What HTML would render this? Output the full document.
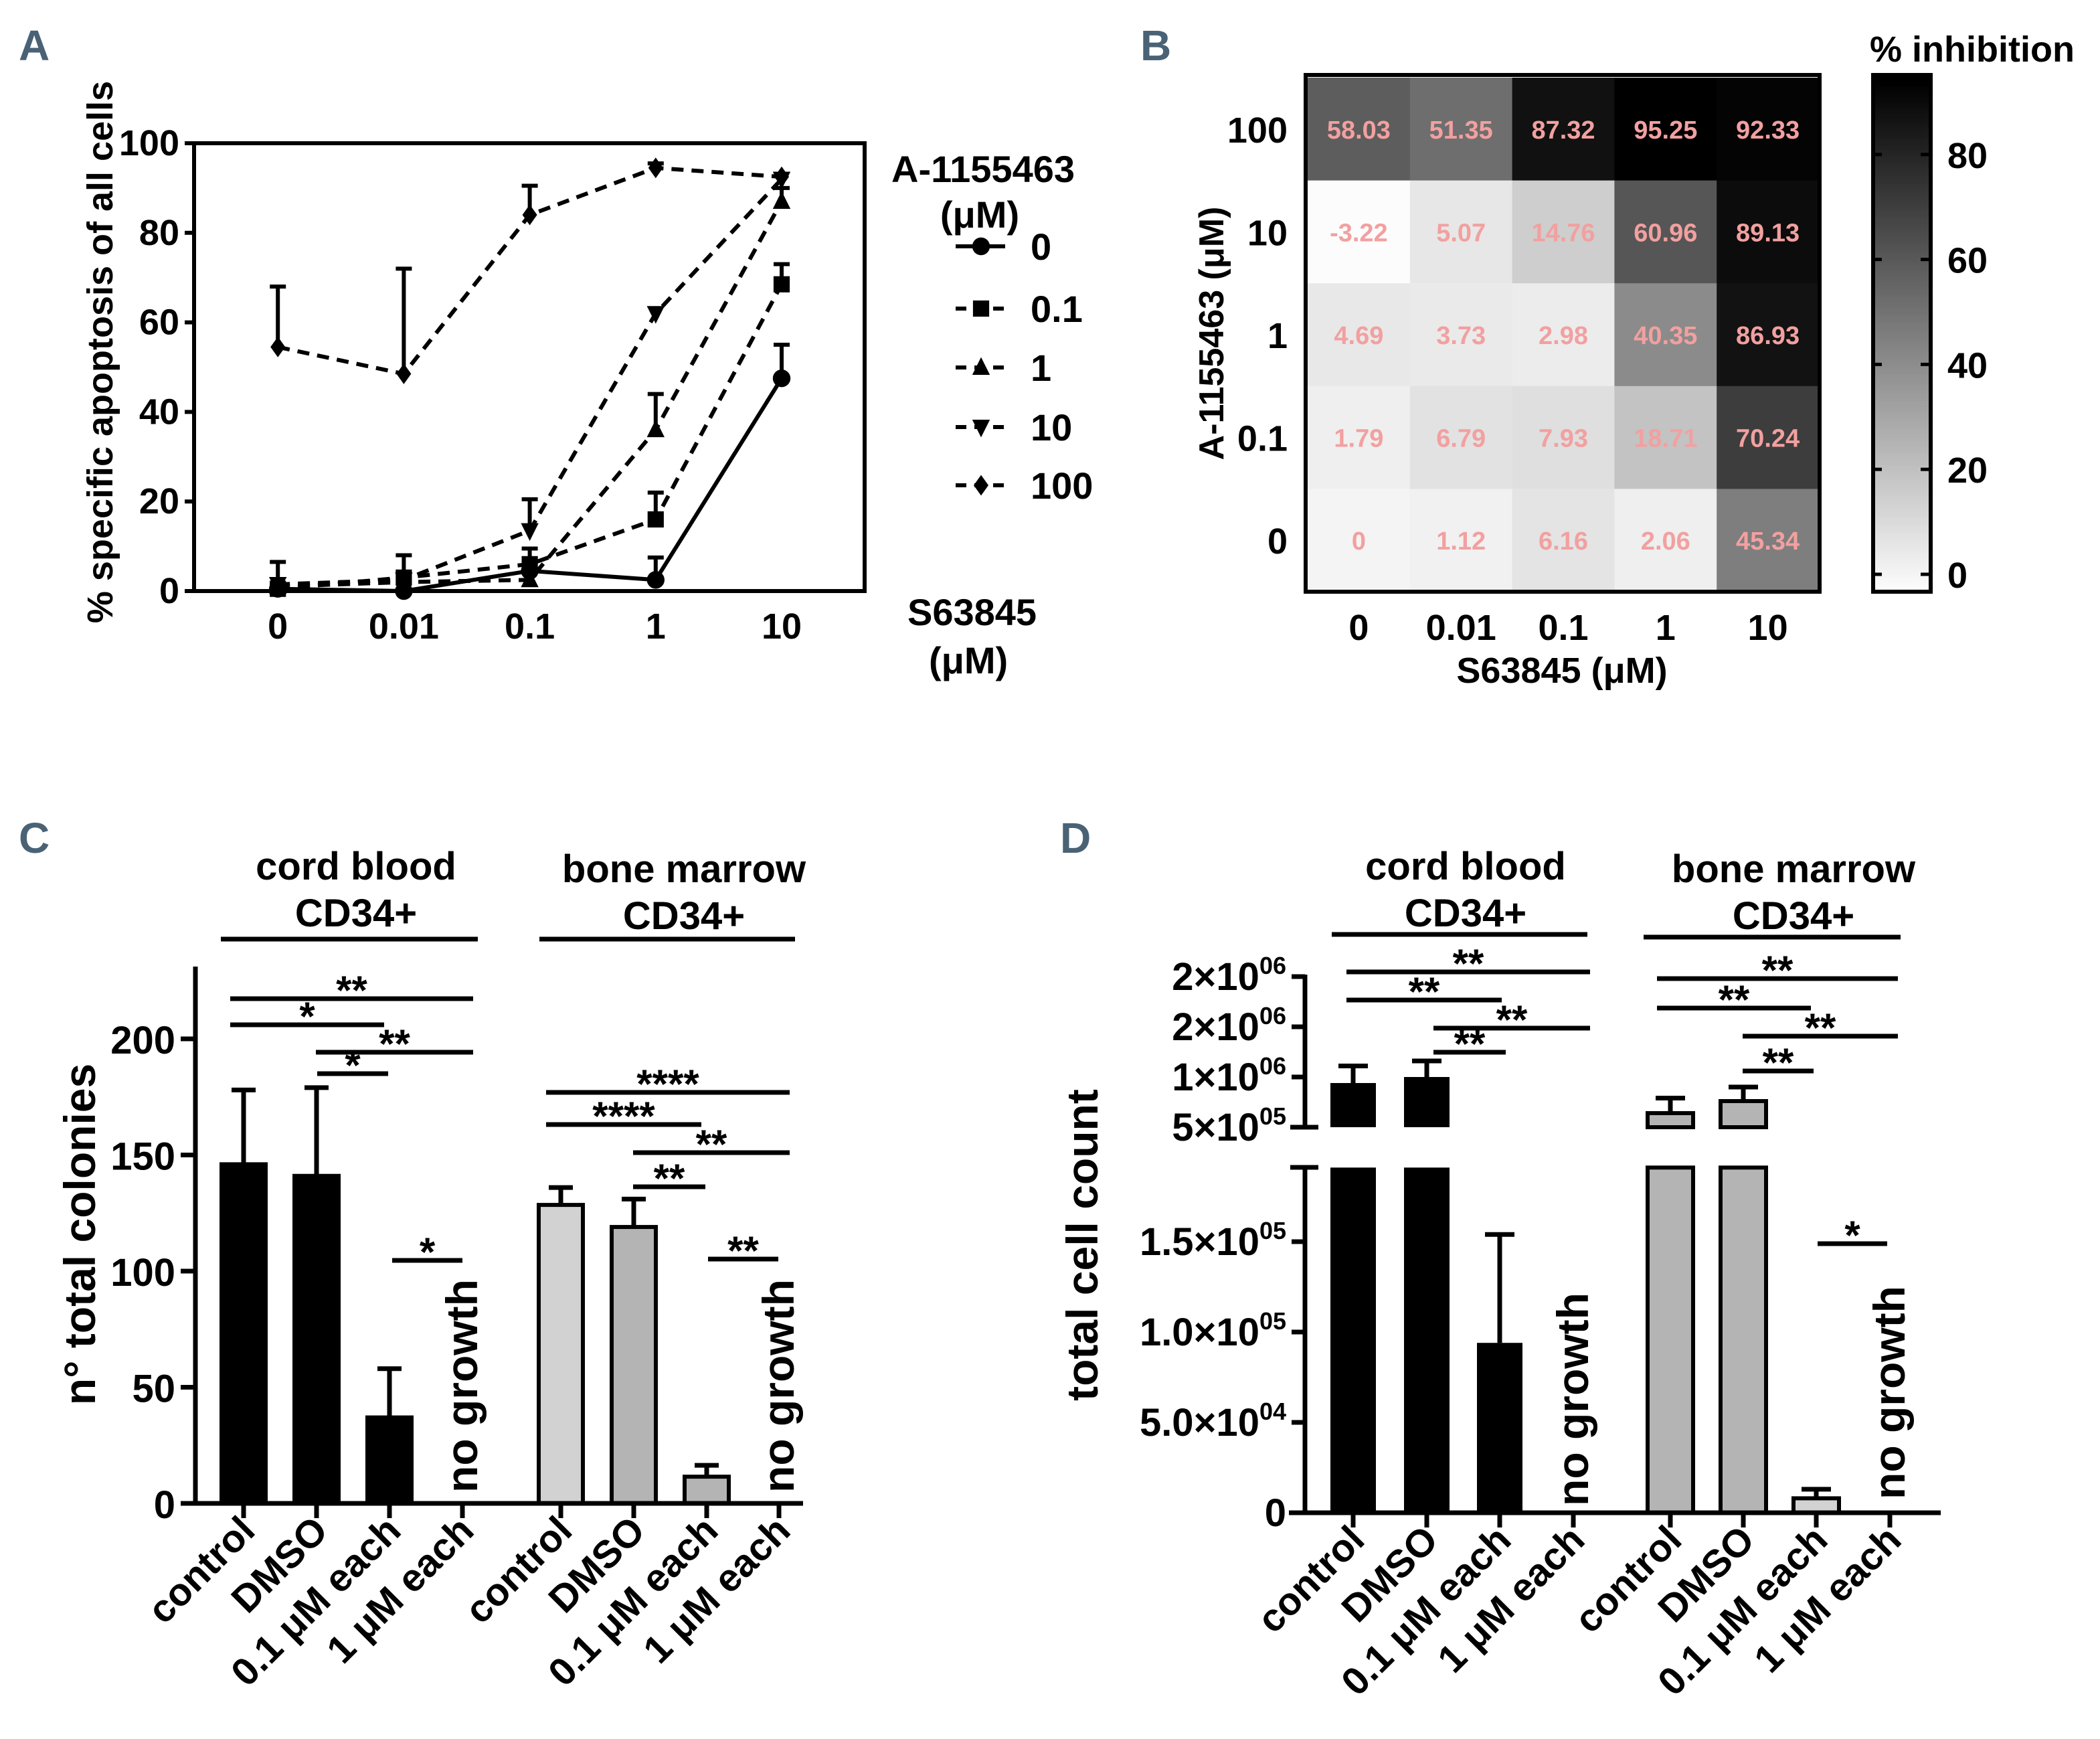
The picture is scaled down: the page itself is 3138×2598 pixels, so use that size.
<!DOCTYPE html>
<html><head><meta charset="utf-8"><style>
html,body{margin:0;padding:0;background:#fff}
svg{display:block}
.n{font-family:"Liberation Sans Narrow","Liberation Sans",sans-serif;font-weight:bold}
.b{font-family:"Liberation Sans",sans-serif;font-weight:bold}
</style></head><body>
<svg id="fig" xmlns="http://www.w3.org/2000/svg" width="3138" height="2598" viewBox="0 0 1569 1299">
<g fill="#4a6275" class="n" font-size="32">
<text x="14" y="45">A</text>
<text x="852" y="45">B</text>
<text x="14" y="637">C</text>
<text x="792" y="637">D</text>
</g>
<g id="A"></g>
<g id="B"></g>
<g id="C"></g>
<g id="D"></g>
</svg>
<script>
// ---------- Panel A data ----------
const aCats = ["0","0.01","0.1","1","10"];
const aSeriesNames = ["0","0.1","1","10","100"];
const aS0 = [0.5,0,4.5,2.5,47.5];
const aS01 = [0.5,3,6,16,68.5];
const aS1 = [1,2,2.5,36,87];
const aS10 = [1.5,2.5,13.5,62,92];
const aS100 = [54.5,48.5,84,94.5,92.5];
const aE0 = [6.5,null,null,7.5,55];
const aE01 = [null,8,9.5,22,73];
const aE1 = [null,null,null,44,90];
const aE10 = [null,null,20.5,null,null];
const aE100 = [68,72,90.5,95.5,null];
const aYTicks = [0,20,40,60,80,100];
// ---------- Panel B data ----------
const bRows = ["100","10","1","0.1","0"];
const bCols = ["0","0.01","0.1","1","10"];
const bR100 = [58.03,51.35,87.32,95.25,92.33];
const bR10 = [-3.22,5.07,14.76,60.96,89.13];
const bR1 = [4.69,3.73,2.98,40.35,86.93];
const bR01 = [1.79,6.79,7.93,18.71,70.24];
const bR0 = [0,1.12,6.16,2.06,45.34];
const bCbTicks = [0,20,40,60,80];
// ---------- Panel C data ----------
const cCats = ["control","DMSO","0.1 μM each","1 μM each"];
const cCord = [146,141,37,0];
const cCordErr = [178,179,58,null];
const cBM = [128.5,119,11.5,0];
const cBMErr = [136,131,16.4,null];
const cYTicks = [0,50,100,150,200];
// ---------- Panel D data ----------
const dCord = [940000,1000000,94000,0];
const dCordErr = [1110000,1160000,154000,null];
const dBM = [640000,760000,8000,0];
const dBMErr = [790000,900000,13000,null];
const dLowTicks = [0,50000,100000,150000];
const dLowLabels = [["0",""],["5.0×10","04"],["1.0×10","05"],["1.5×10","05"]];
const dHighTicks = [500000,1000000,1500000,2000000];
const dHighLabels = [["5×10","05"],["1×10","06"],["2×10","06"],["2×10","06"]];

const NS="http://www.w3.org/2000/svg";
function mk(parent,tag,attrs,text){const e=document.createElementNS(NS,tag);for(const k in attrs)e.setAttribute(k,attrs[k]);if(text!==undefined)e.textContent=text;parent.appendChild(e);return e;}

// ================= Panel A =================
(function(){
const g=document.getElementById('A');
const xA=i=>207.6+i*94.1;
const yA=v=>441.5-v*3.345;
let r=mk(g,'rect',{x:145,y:yA(100),width:501,height:yA(0)-yA(100),fill:'none',stroke:'#000','stroke-width':3});


aYTicks.forEach(v=>{
 let t=mk(g,'line',{x1:138,x2:145,y1:yA(v),y2:yA(v),stroke:'#000','stroke-width':3});
 
 
 let l=mk(g,'text',{x:134,y:yA(v)+9,'text-anchor':'end','font-size':27,class:'n'},String(v));
 
 
});
aCats.forEach((c,i)=>{
 let l=mk(g,'text',{x:xA(i),y:477,'text-anchor':'middle','font-size':27,class:'n'},c);
 
 
});
let yt=mk(g,'text',{transform:'translate(84,263) rotate(-90)','text-anchor':'middle','font-size':27,class:'b'},'% specific apoptosis of all cells');


const series=[aS0,aS01,aS1,aS10,aS100];
const errs=[aE0,aE01,aE1,aE10,aE100];
const shapes=['circle','square','up','down','diamond'];
function marker(p,s,x,y,sz){
 if(s==='circle')return mk(p,'circle',{cx:x,cy:y,r:sz*0.6,fill:'#000'});
 if(s==='square')return mk(p,'rect',{x:x-sz*0.55,y:y-sz*0.55,width:sz*1.1,height:sz*1.1,fill:'#000'});
 if(s==='up')return mk(p,'polygon',{points:`${x},${y-sz*0.7} ${x-sz*0.6},${y+sz*0.5} ${x+sz*0.6},${y+sz*0.5}`,fill:'#000'});
 if(s==='down')return mk(p,'polygon',{points:`${x},${y+sz*0.7} ${x-sz*0.6},${y-sz*0.5} ${x+sz*0.6},${y-sz*0.5}`,fill:'#000'});
 return mk(p,'polygon',{points:`${x},${y-sz*0.7} ${x+sz*0.5},${y} ${x},${y+sz*0.7} ${x-sz*0.5},${y}`,fill:'#000'});
}
series.forEach((s,k)=>{
 const sg=mk(g,'g',{});
 
 
 errs[k].forEach((e,i)=>{ if(e===null)return;
  let eb=mk(sg,'path',{d:`M${xA(i)},${yA(s[i])}V${yA(e)}M${xA(i)-6},${yA(e)}H${xA(i)+6}`,stroke:'#000','stroke-width':3,fill:'none'});
  
  
 });
 let ln=mk(sg,'polyline',{points:s.map((v,i)=>xA(i)+','+yA(v)).join(' '),fill:'none',stroke:'#000','stroke-width':3,'stroke-dasharray':k===0?'none':'9,6'});
 
 
 s.forEach((v,i)=>{let m=marker(sg,shapes[k],xA(i),yA(v),11);
  
  });
});
let lt=mk(g,'text',{x:666,y:136,'font-size':28,class:'n'},'A-1155463');


let lu=mk(g,'text',{x:732,y:170,'text-anchor':'middle','font-size':28,class:'n'},'(μM)');


const ly=[184,230.5,274.5,319,362.5];
aSeriesNames.forEach((n,k)=>{
 const eg=mk(g,'g',{});
 
 
 mk(eg,'line',{x1:714,x2:751,y1:ly[k],y2:ly[k],stroke:'#000','stroke-width':3,'stroke-dasharray':k===0?'none':'8,6'});
 marker(eg,shapes[k],733,ly[k],11);
 mk(eg,'text',{x:770,y:ly[k]+10,'font-size':28,class:'n'},n);
});
let xt=mk(g,'text',{x:678,y:467,'font-size':28,class:'n'},'S63845');


let xu=mk(g,'text',{x:694,y:503,'font-size':28,class:'n'},'(μM)');


})();

// ================= Panel B =================
(function(){
const g=document.getElementById('B');
const rows=[bR100,bR10,bR1,bR01,bR0];
const x0=977,y0=58,cw=76.4,ch=76.8;
const gray=v=>{let c=Math.round(244-2.6*v);c=Math.max(0,Math.min(255,c));return `rgb(${c},${c},${c})`;};
rows.forEach((row,r)=>row.forEach((v,c)=>{
 let cell=mk(g,'rect',{x:x0+c*cw,y:y0+r*ch,width:cw+0.5,height:ch+0.5,fill:gray(v)});
 
 
 let t=mk(g,'text',{x:x0+c*cw+cw/2,y:y0+r*ch+ch/2+7,'text-anchor':'middle','font-size':19,fill:'#f2a0a0',class:'n'},String(v));
 
 
}));
let fr=mk(g,'rect',{x:975.5,y:56,width:384,height:386,fill:'none',stroke:'#000','stroke-width':3});


bRows.forEach((n,r)=>{let t=mk(g,'text',{x:962,y:y0+r*ch+ch/2+10,'text-anchor':'end','font-size':27,class:'n'},n);
 
 });
bCols.forEach((n,c)=>{let t=mk(g,'text',{x:x0+c*cw+cw/2,y:478,'text-anchor':'middle','font-size':27,class:'n'},n);
 
 });
let xt=mk(g,'text',{x:1167,y:510,'text-anchor':'middle','font-size':27,class:'n'},'S63845 (μM)');


let yt=mk(g,'text',{transform:'translate(914,249) rotate(-90)','text-anchor':'middle','font-size':26,class:'b'},'A-1155463 (μM)');


const cb=mk(g,'g',{});


const yc=v=>429-v*3.92;
for(let v=-3;v<95.5;v+=0.5){mk(cb,'rect',{x:1401,y:yc(v+0.5),width:40,height:3.92*0.5+0.4,fill:gray(v)});}
mk(cb,'rect',{x:1399.5,y:56,width:43,height:386,fill:'none',stroke:'#000','stroke-width':3});
bCbTicks.forEach(v=>{
 mk(cb,'line',{x1:1401,x2:1406,y1:yc(v),y2:yc(v),stroke:'#000','stroke-width':2.5});
 mk(cb,'line',{x1:1435,x2:1441,y1:yc(v),y2:yc(v),stroke:'#000','stroke-width':2.5});
 let t=mk(cb,'text',{x:1455,y:yc(v)+10,'font-size':27,class:'n'},String(v));
 
 
});
let ct=mk(g,'text',{x:1397,y:46,'font-size':27,class:'n'},'% inhibition');


})();

function sig(g,x1,x2,y,label){
 const sg=mk(g,'g',{});
 
 
 mk(sg,'line',{x1:x1,x2:x2,y1:y,y2:y,stroke:'#000','stroke-width':3.5});
 mk(sg,'text',{x:(x1+x2)/2,y:y+4,'text-anchor':'middle','font-size':30,class:'b'},label);
}
function header(g,cx,y1,l1,l2,x1,x2,ly){
 const hg=mk(g,'g',{});
 
 
 mk(hg,'text',{x:cx,y:y1,'text-anchor':'middle','font-size':29,class:'b'},l1);
 mk(hg,'text',{x:cx,y:y1+35,'text-anchor':'middle','font-size':29,class:'b'},l2);
 mk(hg,'line',{x1:x1,x2:x2,y1:ly,y2:ly,stroke:'#000','stroke-width':3.5});
}
function noGrowth(g,x,yb){
 let t=mk(g,'text',{transform:`translate(${x+11},${yb}) rotate(-90)`,'font-size':33,class:'b'},'no growth');
 
 
}
function catLabels(g,xs,y){
 xs.forEach((x,i)=>{
  let t=mk(g,'text',{transform:`translate(${x+10},${y}) rotate(-45)`,'text-anchor':'end','font-size':29,class:'b'},cCats[i%4]);
  
  
 });
}

// ================= Panel C =================
(function(){
const g=document.getElementById('C');
const yC=v=>1123-v*1.735;
const cx=[182,236.5,291,345.5,419,473.5,528,582];
const fills=['#000','#000','#000','#000','#d2d2d2','#b4b4b4','#b4b4b4','#b4b4b4'];
const vals=cCord.concat(cBM), errs=cCordErr.concat(cBMErr);
vals.forEach((v,i)=>{
 if(errs[i]!==null){let e=mk(g,'path',{d:`M${cx[i]},${yC(v)}V${yC(errs[i])}M${cx[i]-9},${yC(errs[i])}H${cx[i]+9}`,stroke:'#000','stroke-width':3.5,fill:'none'});
  
  }
 if(v>0){let b=mk(g,'rect',{x:cx[i]-16.5,y:yC(v),width:33,height:yC(0)-yC(v),fill:fills[i],stroke:'#000','stroke-width':3});
  
  }
});
mk(g,'line',{x1:146,x2:146,y1:722,y2:1124.5,stroke:'#000','stroke-width':3.5});
mk(g,'line',{x1:135,x2:600,y1:1123,y2:1123,stroke:'#000','stroke-width':3.5});
cYTicks.forEach(v=>{
 mk(g,'line',{x1:135,x2:146,y1:yC(v),y2:yC(v),stroke:'#000','stroke-width':3.5});
 let t=mk(g,'text',{x:131,y:yC(v)+11,'text-anchor':'end','font-size':29,class:'n'},String(v));
 
 
});
cx.forEach(x=>mk(g,'line',{x1:x,x2:x,y1:1123,y2:1134,stroke:'#000','stroke-width':3.5}));
let yt=mk(g,'text',{transform:'translate(71,922) rotate(-90)','text-anchor':'middle','font-size':33,class:'b'},'n° total colonies');


header(g,266,657,'cord blood','CD34+',165,357,701.5);
header(g,511,659,'bone marrow','CD34+',403,594,701.5);
sig(g,172,353.5,746,'**');sig(g,172,287,765.5,'*');sig(g,236,353.5,786,'**');sig(g,237,290,802,'*');sig(g,293,345.5,941.5,'*');
sig(g,408,590,816,'****');sig(g,408,524,840,'****');sig(g,473,590,861,'**');sig(g,473,527,886.5,'**');sig(g,529,581.5,940.5,'**');
noGrowth(g,345.5,1115);noGrowth(g,582,1115);
catLabels(g,cx,1145);
})();

// ================= Panel D =================
(function(){
const g=document.getElementById('D');
const BRK_LO=191000, BOTHI=842;
const yLo=v=>1130-Math.min(v,BRK_LO)*0.00135;
const yHi=v=>842-(v-500000)*0.000075;
const cx=[1011,1066,1120.5,1175.5,1248,1302.5,1357,1412];
const fills=['#000','#000','#000','#000','#b4b4b4','#b4b4b4','#d2d2d2','#d2d2d2'];
const vals=dCord.concat(dBM), errs=dCordErr.concat(dBMErr);
const yAny=v=>v>=500000?yHi(v):yLo(v);
vals.forEach((v,i)=>{
 if(errs[i]!==null){let e=mk(g,'path',{d:`M${cx[i]},${yAny(v)}V${yAny(errs[i])}M${cx[i]-11},${yAny(errs[i])}H${cx[i]+11}`,stroke:'#000','stroke-width':3.5,fill:'none'});
  
  }
 if(v<=0)return;
 const bg=mk(g,'g',{});
 
 
 const sw=fills[i]==='#000'?0:3;
 mk(bg,'rect',{x:cx[i]-17,y:yLo(v),width:34,height:1130-yLo(v),fill:fills[i],stroke:'#000','stroke-width':sw});
 if(v>=500000) mk(bg,'rect',{x:cx[i]-17,y:yHi(v),width:34,height:BOTHI-yHi(v),fill:fills[i],stroke:'#000','stroke-width':sw});
});
mk(g,'line',{x1:975,x2:975,y1:728,y2:843.5,stroke:'#000','stroke-width':3.5});
mk(g,'line',{x1:975,x2:975,y1:870.5,y2:1131.5,stroke:'#000','stroke-width':3.5});
mk(g,'line',{x1:964,x2:985,y1:842,y2:842,stroke:'#000','stroke-width':3.5});
mk(g,'line',{x1:964,x2:985,y1:872,y2:872,stroke:'#000','stroke-width':3.5});
mk(g,'line',{x1:963,x2:1450,y1:1130,y2:1130,stroke:'#000','stroke-width':3.5});
function dTick(y,lab){
 mk(g,'line',{x1:965,x2:975,y1:y,y2:y,stroke:'#000','stroke-width':3.5});
 let t=mk(g,'text',{x:961,y:y+10,'text-anchor':'end','font-size':29,class:'b'});
 
 
 mk(t,'tspan',{},lab[0]);
 if(lab[1]) mk(t,'tspan',{dy:-12,'font-size':18},lab[1]);
}
dLowTicks.forEach((v,i)=>dTick(yLo(v),dLowLabels[i]));
dHighTicks.forEach((v,i)=>dTick(yHi(v),dHighLabels[i]));
cx.forEach(x=>mk(g,'line',{x1:x,x2:x,y1:1130,y2:1141,stroke:'#000','stroke-width':3.5}));
let yt=mk(g,'text',{transform:'translate(820,930) rotate(-90)','text-anchor':'middle','font-size':33,class:'b'},'total cell count');


header(g,1095,657,'cord blood','CD34+',995,1186,698);
header(g,1340,659,'bone marrow','CD34+',1228,1420,700);
sig(g,1006,1188,726,'**');sig(g,1006,1122,747,'**');sig(g,1071,1188,768,'**');sig(g,1071,1125,786,'**');
sig(g,1238,1418,731,'**');sig(g,1238,1353,753,'**');sig(g,1302,1418,774,'**');sig(g,1302,1355,800,'**');sig(g,1358,1410,929,'*');
noGrowth(g,1175.5,1125);noGrowth(g,1412,1120);
catLabels(g,cx,1152);
})();
</script>
</body></html>
